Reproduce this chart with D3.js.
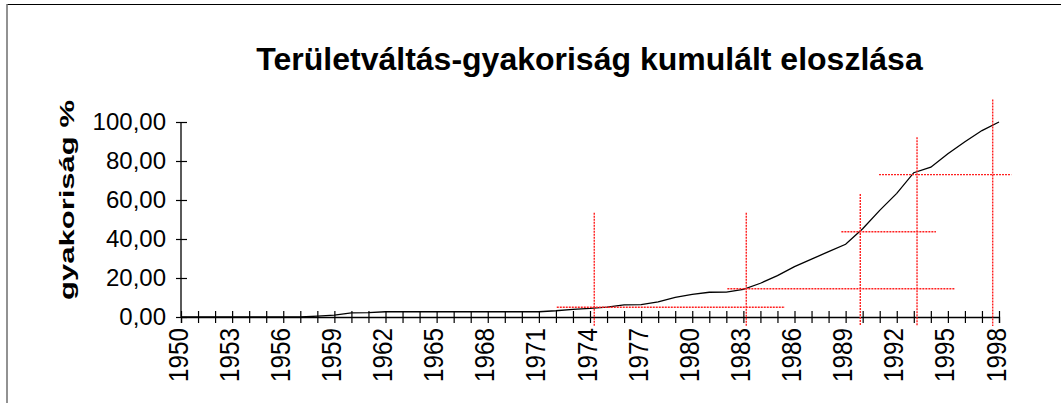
<!DOCTYPE html>
<html><head><meta charset="utf-8">
<script src="https://cdn.jsdelivr.net/npm/d3@7"></script>
<style>body{margin:0;background:#fff}svg{display:block}</style>
</head><body>
<svg id="c" width="1061" height="403"></svg>
<script>
const years = [1950,1951,1952,1953,1954,1955,1956,1957,1958,1959,1960,1961,1962,1963,1964,1965,1966,1967,1968,1969,1970,1971,1972,1973,1974,1975,1976,1977,1978,1979,1980,1981,1982,1983,1984,1985,1986,1987,1988,1989,1990,1991,1992,1993,1994,1995,1996,1997,1998];
const cumPct = [0,0,0,0,0,0,0,0,0.5,1.0,2.1,2.2,2.7,2.7,2.7,2.7,2.7,2.7,2.7,2.7,2.7,2.7,3.2,3.9,4.4,5.1,6.2,6.3,7.7,10.1,11.6,12.7,12.8,14.2,17.3,21.2,25.8,29.7,33.5,37.3,45.3,54.7,63.4,74.0,76.8,83.7,89.9,95.6,100];
const xLabelYears = [1950,1953,1956,1959,1962,1965,1968,1971,1974,1977,1980,1983,1986,1989,1992,1995,1998];
const yTicks = [0,20,40,60,80,100];
// red dotted reference lines (data units)
const vRefYear = [1974.25,1983.17,1989.86,1993.19,1997.63];
const vRefTop = [53.5,53.5,63.1,92.2,111.6];
const vRefBottom = [-4.6,-4.6,-4.6,-4.6,-4.6];
const hRefLevel = [5.0,14.5,43.75,73.0];
const hRefFrom = [1972.05,1982.06,1988.75,1990.96];
const hRefTo = [1985.44,1995.42,1994.3,1998.72];
const title = "Területváltás-gyakoriság kumulált eloszlása";
const yTitle = "gyakoriság %";

const svg = d3.select("#c");
const font = "'Liberation Sans', Arial, sans-serif";
// frame
svg.append("line").attr("x1",7).attr("y1",4.5).attr("x2",1061).attr("y2",4.5).attr("stroke","#000").attr("stroke-width",1.2);
svg.append("line").attr("x1",7).attr("y1",4).attr("x2",7).attr("y2",403).attr("stroke","#777").attr("stroke-width",1.6);

const x = d3.scaleLinear().domain([1950,1998]).range([181,999]);
const y = d3.scaleLinear().domain([0,100]).range([317,122]);

// title
svg.append("text").attr("x",589.5).attr("y",70).attr("text-anchor","middle")
  .attr("font-family",font).attr("font-weight","bold").attr("font-size",32).text(title);

// y title
svg.append("text").attr("transform","translate(74,200) rotate(-90)").attr("text-anchor","middle")
  .attr("font-family",font).attr("font-weight","bold").attr("font-size",21)
  .attr("textLength",200).attr("lengthAdjust","spacingAndGlyphs").text(yTitle);

// x axis ticks
const gx = svg.append("g").attr("transform",`translate(0,${y(0)})`)
  .call(d3.axisBottom(x).tickValues(years).tickSize(6).tickFormat(""));
gx.select(".domain").attr("stroke","#000").attr("stroke-width",1.3);
gx.selectAll(".tick line").attr("y1",-6).attr("y2",6).attr("stroke","#000").attr("stroke-width",1.2);

const gxl = svg.append("g").attr("transform",`translate(0,${y(0)})`)
  .call(d3.axisBottom(x).tickValues(xLabelYears).tickSize(0).tickFormat(d3.format("d")));
gxl.select(".domain").remove();
gxl.selectAll("text").attr("font-family",font).attr("font-size",27).attr("fill","#000")
  .attr("text-anchor","end").attr("transform","rotate(-90)").attr("x",-11).attr("y",0).attr("dy",6)
  .attr("textLength",54).attr("lengthAdjust","spacingAndGlyphs");

// y axis
const gy = svg.append("g").attr("transform",`translate(${x(1950)},0)`)
  .call(d3.axisLeft(y).tickValues(yTicks).tickSize(5).tickPadding(10).tickFormat(d => d3.format(".2f")(d).replace(".",",")));
gy.select(".domain").attr("stroke","#000").attr("stroke-width",1.3).attr("d",`M0,${y(100)}V${y(0)}`);
gy.selectAll(".tick line").attr("x1",-5).attr("x2",6).attr("stroke","#000").attr("stroke-width",1.2);
gy.selectAll("text").attr("font-family",font).attr("font-size",24).attr("fill","#000");

// data line
const line = d3.line().x((d,i)=>x(years[i])).y(d=>y(d));
svg.append("path").datum(cumPct).attr("d",line).attr("fill","none").attr("stroke","#000").attr("stroke-width",1.3);

// reference lines
const red = "#ff2020";
svg.append("g").selectAll("line").data(vRefYear).join("line")
  .attr("x1",d=>x(d)).attr("x2",d=>x(d)).attr("y1",(d,i)=>y(vRefTop[i])).attr("y2",(d,i)=>y(vRefBottom[i]))
  .attr("stroke",red).attr("stroke-width",1.4).attr("stroke-dasharray","2,1");
svg.append("g").selectAll("line").data(hRefLevel).join("line")
  .attr("x1",(d,i)=>x(hRefFrom[i])).attr("x2",(d,i)=>x(hRefTo[i])).attr("y1",d=>y(d)).attr("y2",d=>y(d))
  .attr("stroke",red).attr("stroke-width",1.4).attr("stroke-dasharray","2,1");
</script>
</body></html>
